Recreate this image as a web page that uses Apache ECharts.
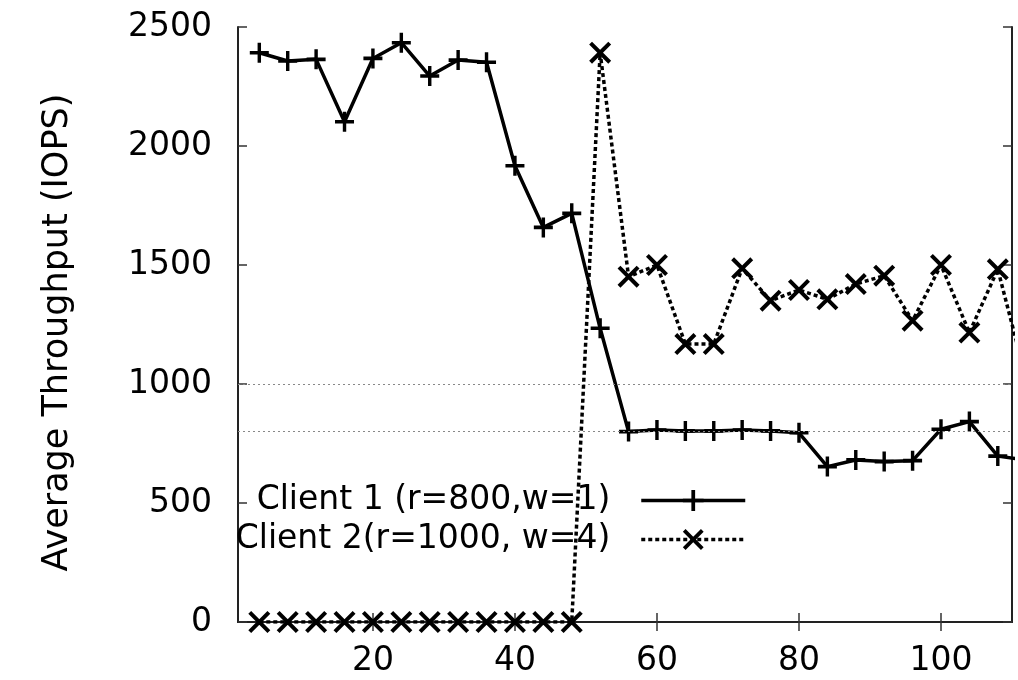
<!DOCTYPE html>
<html>
<head>
<meta charset="utf-8">
<script src="https://cdn.jsdelivr.net/npm/echarts@6/dist/echarts.min.js"></script>
<style>
  html, body { margin: 0; padding: 0; background: #fff; }
  #main { width: 1018px; height: 680px; }
</style>
</head>
<body>
<div id="main"></div>
<script>
// time (x) and average throughput per client
var xs = [4, 8, 12, 16, 20, 24, 28, 32, 36, 40, 44, 48, 52, 56, 60, 64, 68, 72, 76, 80, 84, 88, 92, 96, 100, 104, 108, 112];
var client1 = [2392, 2357, 2364, 2102, 2368, 2434, 2294, 2361, 2352, 1917, 1658, 1717, 1234, 800, 807, 803, 803, 807, 803, 795, 653, 681, 674, 678, 810, 842, 697, 680];
var client2 = [0, 0, 0, 0, 0, 0, 0, 0, 0, 0, 0, 0, 2392, 1451, 1500, 1168, 1168, 1486, 1350, 1395, 1356, 1420, 1455, 1266, 1500, 1216, 1482, 1020];
var names = ['Client 1 (r=800,w=1)', 'Client 2(r=1000, w=4)'];
var xTicks = [20, 40, 60, 80, 100];
var refLines = [1000, 800];

function pairs(vals) {
  return xs.map(function (x, i) { return [x, vals[i]]; });
}

var plusSym = 'path://M8.2,0h3.6v20h-3.6z M0,8.2h20v3.6h-20z';
var crossSym = 'path://M0,2.6 L2.6,0 L20,17.4 L17.4,20 Z M17.4,0 L20,2.6 L2.6,20 L0,17.4 Z';
var font = 'DejaVu Sans';

var myChart = echarts.init(document.getElementById('main'));
var frame = { show: true, lineStyle: { color: '#222', width: 2 } };
var tick = { show: true, inside: true, length: 9, lineStyle: { color: '#333', width: 1.5 } };

var option = {
  animation: false,
  grid: { left: 238, right: 6, top: 27, bottom: 58, containLabel: false },
  legend: {
    orient: 'vertical',
    right: 271,
    top: 484,
    padding: 0,
    align: 'right',
    itemWidth: 104,
    itemHeight: 26,
    itemGap: 6,
    data: names,
    lineStyle: { width: 3.5 },
    textStyle: { fontFamily: font, fontSize: 33, color: '#000', lineHeight: 33, padding: [0, 26, 0, 0] }
  },
  xAxis: [{
    type: 'value', min: 1, max: 110,
    axisLine: frame,
    axisTick: { show: true, inside: true, length: 9, lineStyle: { color: '#333', width: 1.5 }, customValues: xTicks },
    axisLabel: { customValues: xTicks, fontFamily: font, fontSize: 33, color: '#000', margin: 23 },
    splitLine: { show: false }
  }, {
    type: 'value', min: 1, max: 110, position: 'top',
    axisLine: frame,
    axisTick: { show: true, inside: true, length: 9, lineStyle: { color: '#333', width: 1.5 }, customValues: xTicks },
    axisLabel: { show: false },
    splitLine: { show: false }
  }],
  yAxis: [{
    type: 'value', min: 0, max: 2500, interval: 500,
    name: 'Average Throughput (IOPS)',
    nameLocation: 'middle',
    nameGap: 163,
    nameTextStyle: { fontFamily: font, fontSize: 35, color: '#000', padding: [0, 16, 0, 0] },
    axisLine: frame,
    axisTick: tick,
    axisLabel: { fontFamily: font, fontSize: 33, color: '#000', margin: 26, formatter: function (v) { return String(v); } },
    splitLine: { show: false }
  }, {
    type: 'value', min: 0, max: 2500, interval: 500, position: 'right',
    axisLine: frame,
    axisTick: tick,
    axisLabel: { show: false },
    splitLine: { show: false }
  }],
  series: [{
    name: names[0],
    type: 'line',
    data: pairs(client1),
    symbol: plusSym,
    symbolSize: [19, 20],
    showAllSymbol: true,
    clip: true,
    lineStyle: { color: '#000', width: 3.5 },
    itemStyle: { color: '#000' },
    markLine: {
      silent: true,
      symbol: 'none',
      label: { show: false },
      lineStyle: { color: '#888', width: 1.2, type: [2, 3] },
      data: refLines.map(function (v) { return { yAxis: v }; })
    },
    z: 3
  }, {
    name: names[1],
    type: 'line',
    data: pairs(client2),
    symbol: crossSym,
    symbolSize: 22,
    showAllSymbol: true,
    clip: true,
    lineStyle: { color: '#000', width: 3.5, type: [4, 3] },
    itemStyle: { color: '#000' },
    z: 4
  }]
};
myChart.setOption(option);
</script>
</body>
</html>
